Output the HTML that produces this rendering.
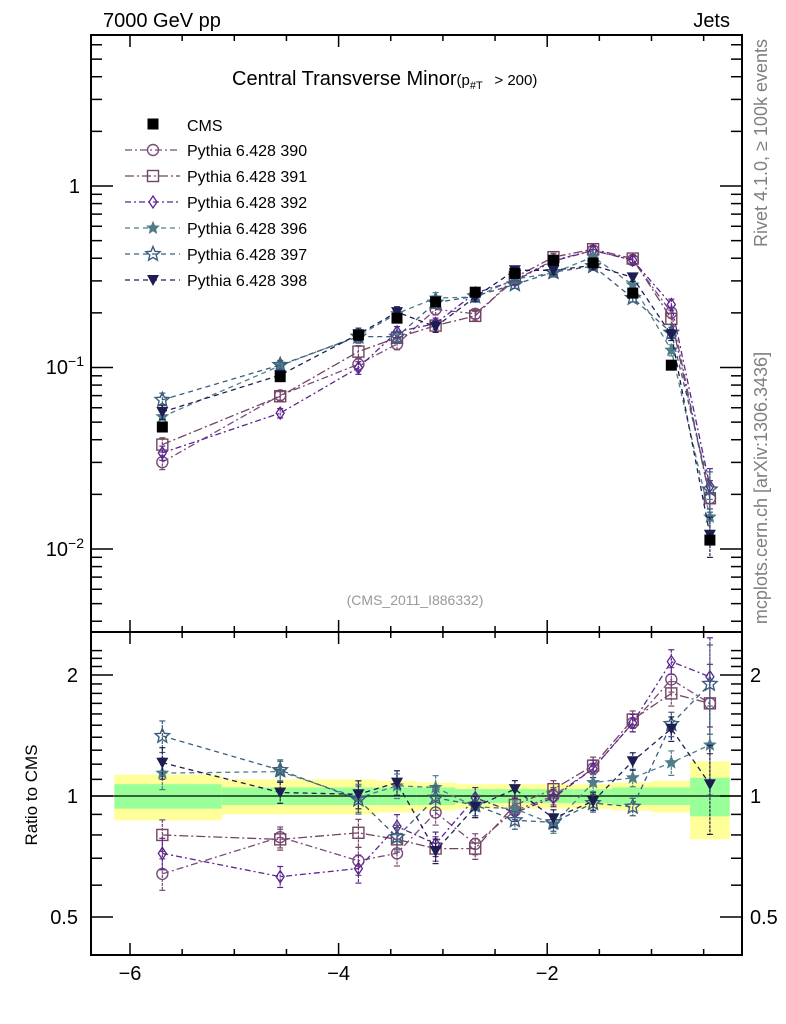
<!DOCTYPE html>
<html><head><meta charset="utf-8"><style>
html,body{margin:0;padding:0;background:#fff;}
svg{display:block;font-family:"Liberation Sans",sans-serif;}
</style></head><body>
<svg id="chart" width="786" height="1024" viewBox="0 0 786 1024"></svg>
<script>
const xCenters=[-5.69,-4.56,-3.81,-3.44,-3.07,-2.69,-2.31,-1.94,-1.56,-1.18,-0.81,-0.44];
const binEdges=[-6.15,-5.12,-4.0,-3.63,-3.25,-2.88,-2.5,-2.13,-1.75,-1.38,-1.0,-0.63,-0.25];
const cmsValues=[0.047,0.089,0.151,0.187,0.23,0.26,0.33,0.39,0.377,0.257,0.103,0.0112];
const bandInner=[0.07,0.05,0.05,0.05,0.05,0.04,0.04,0.04,0.04,0.05,0.05,0.11];
const bandOuter=[0.13,0.10,0.10,0.09,0.08,0.07,0.07,0.07,0.07,0.08,0.09,0.22];
const r390=[0.64,0.79,0.69,0.72,0.91,0.76,0.92,1.0,1.17,1.52,1.95,1.70];
const r391=[0.80,0.78,0.81,0.78,0.74,0.74,0.95,1.04,1.19,1.55,1.80,1.70];
const r392=[0.72,0.63,0.66,0.84,0.76,0.99,0.91,0.99,1.17,1.52,2.16,1.98];
const r396=[1.14,1.15,0.99,1.06,1.05,0.94,0.93,0.85,1.08,1.11,1.21,1.34];
const r397=[1.41,1.16,0.98,0.79,0.99,0.95,0.87,0.86,0.96,0.94,1.51,1.90];
const r398=[1.21,1.02,1.01,1.08,0.73,0.94,1.04,0.88,0.97,1.22,1.47,1.07];
const modelErr=[0.09,0.06,0.08,0.07,0.07,0.06,0.05,0.05,0.05,0.05,0.07,0.25];
const seriesNames=["Pythia 6.428 390","Pythia 6.428 391","Pythia 6.428 392","Pythia 6.428 396","Pythia 6.428 397","Pythia 6.428 398"];
const xTickLabels=["\u22126","\u22124","\u22122"];

const NS="http://www.w3.org/2000/svg";
const svg=document.getElementById('chart');
function mk(tag,attrs,parent){const e=document.createElementNS(NS,tag);for(const k in attrs)e.setAttribute(k,attrs[k]);(parent||svg).appendChild(e);return e;}
const L=91,R=742,T=35,MB=632,RB=955;
const X=v=>130+(v+6)*104.3;
const Y=v=>186-Math.log10(v)*181.5;
const YR=v=>796-Math.log2(v)*121;

const series=[
 {r:r390,c:"#7a4b7c",dash:"7,3,2,3",m:"circle"},
 {r:r391,c:"#734563",dash:"9,3,2,3",m:"square"},
 {r:r392,c:"#5b2590",dash:"6,3,2,3",m:"diamond"},
 {r:r396,c:"#4e7d88",dash:"5,4",m:"starf"},
 {r:r397,c:"#3b5e7c",dash:"5,4",m:"staro"},
 {r:r398,c:"#1e1d52",dash:"5,4",m:"tri"}
];

const gBand=mk('g',{});


for(let i=0;i<cmsValues.length;i++){
  const x1=Math.max(X(binEdges[i]),L),x2=X(binEdges[i+1]);
  mk('rect',{x:x1,y:YR(1+bandOuter[i]),width:x2-x1,height:YR(1-bandOuter[i])-YR(1+bandOuter[i]),fill:"#ffff99"},gBand);
  mk('rect',{x:x1,y:YR(1+bandInner[i]),width:x2-x1,height:YR(1-bandInner[i])-YR(1+bandInner[i]),fill:"#99ff99"},gBand);
}
mk('line',{x1:L,x2:R,y1:YR(1),y2:YR(1),stroke:"#000","stroke-width":1.3});

function star(cx,cy,r){let p=[];for(let k=0;k<10;k++){const a=-Math.PI/2+k*Math.PI/5;const rr=k%2?r*0.45:r;p.push((cx+rr*Math.cos(a)).toFixed(1)+","+(cy+rr*Math.sin(a)).toFixed(1));}return p.join(" ");}
function marker(g,m,x,y,c){
  if(m==="circle")mk('circle',{cx:x,cy:y,r:5.5,fill:"none",stroke:c,"stroke-width":1.4},g);
  else if(m==="square")mk('rect',{x:x-5.5,y:y-5.5,width:11,height:11,fill:"none",stroke:c,"stroke-width":1.4},g);
  else if(m==="diamond")mk('polygon',{points:`${x},${y-6} ${x+4},${y} ${x},${y+6} ${x-4},${y}`,fill:"none",stroke:c,"stroke-width":1.3},g);
  else if(m==="starf")mk('polygon',{points:star(x,y,6),fill:c,stroke:c},g);
  else if(m==="staro")mk('polygon',{points:star(x,y,7.5),fill:"none",stroke:c,"stroke-width":1.4},g);
  else if(m==="tri")mk('polygon',{points:`${x-6},${y-5} ${x+6},${y-5} ${x},${y+6}`,fill:c},g);
  else if(m==="sq")mk('rect',{x:x-5.5,y:y-5.5,width:11,height:11,fill:c},g);
}
function drawSeries(s,idx,yf,vals,clipTop,clipBot){
  const g=mk('g',{});
  
  
  let pts=vals.map((v,i)=>X(xCenters[i]).toFixed(1)+","+yf(v).toFixed(1)).join(" ");
  mk('polyline',{points:pts,fill:"none",stroke:s.c,"stroke-width":1.3,"stroke-dasharray":s.dash},g);
  vals.forEach((v,i)=>{
    const x=X(xCenters[i]);
    const y1=Math.max(yf(v*(1+modelErr[i])),clipTop),y2=Math.min(yf(v*(1-modelErr[i])),clipBot);
    mk('line',{x1:x,x2:x,y1:y1,y2:y2,stroke:s.c,"stroke-width":1.2,"stroke-dasharray":"3,1"},g);
    mk('line',{x1:x-3,x2:x+3,y1:y1,y2:y1,stroke:s.c,"stroke-width":1.2},g);
    mk('line',{x1:x-3,x2:x+3,y1:y2,y2:y2,stroke:s.c,"stroke-width":1.2},g);
    marker(g,s.m,x,yf(v),s.c);
  });
}
series.forEach((s,idx)=>drawSeries(s,idx,Y,s.r.map((r,i)=>r*cmsValues[i]),T,MB));
const gc=mk('g',{});


cmsValues.forEach((v,i)=>marker(gc,"sq",X(xCenters[i]),Y(v),"#000"));
series.forEach((s,idx)=>drawSeries(s,idx,YR,s.r,MB,RB));

mk('rect',{x:L,y:T,width:R-L,height:MB-T,fill:"none",stroke:"#000","stroke-width":2});
mk('rect',{x:L,y:MB,width:R-L,height:RB-MB,fill:"none",stroke:"#000","stroke-width":2});

const tk=mk('g',{stroke:"#000","stroke-width":1.5});
for(let v=-6;v<=-0.5;v+=0.5){
  const x=X(v),maj=Number.isInteger(v)&&v%2===0,l=maj?12:6;
  [[T,1],[MB,-1],[MB,1],[RB,-1]].forEach(([y,d])=>mk('line',{x1:x,x2:x,y1:y,y2:y+d*l},tk));
}
xTickLabels.forEach((t,i)=>{const e=mk('text',{x:X(-6+2*i),y:980,"font-size":20,"text-anchor":"middle"});e.textContent=t;

});
for(let d=-3;d<=0;d++)for(let m=1;m<=9;m++){
  const v=m*Math.pow(10,d),y=Y(v);if(y<T||y>MB)continue;const l=m===1?22:11;
  mk('line',{x1:L,x2:L+l,y1:y,y2:y},tk);mk('line',{x1:R,x2:R-l,y1:y,y2:y},tk);
}
function lbl(x,y,txt,anchor,size,name,sup){const e=mk('text',{x:x,y:y,"font-size":size||20,"text-anchor":anchor||"end"});e.textContent=txt;
if(sup){const s=mk('tspan',{dy:-8,"font-size":14},e);s.textContent=sup;}

return e;}
lbl(80,193,"1","end",20,"y-tick-1");
lbl(84,374,"10","end",20,"y-tick-0.1","\u22121");
lbl(84,556,"10","end",20,"y-tick-0.01","\u22122");
[0.4,0.5,0.6,0.7,0.8,0.9,1,1.1,1.2,1.3,1.4,1.5,1.6,1.7,1.8,1.9,2,2.1,2.2,2.3].forEach(v=>{
  const y=YR(v);if(y<MB||y>RB)return;const l=(v===0.5||v===1||v===2)?22:11;
  mk('line',{x1:L,x2:L+l,y1:y,y2:y},tk);mk('line',{x1:R,x2:R-l,y1:y,y2:y},tk);
});
[["2",2],["1",1],["0.5",0.5]].forEach(([t,v])=>{lbl(78,YR(v)+7,t,"end",20,"ratio-tick-left");lbl(750,YR(v)+7,t,"start",20,"ratio-tick-right");});

lbl(103,27,"7000 GeV pp","start",20,"energy-label");
lbl(730,27,"Jets","end",20,"process-label");
const tt=lbl(232,85,"Central Transverse Minor","start",20,"plot-title");
const t2=mk('tspan',{"font-size":15},tt);t2.textContent="(p";
const t3=mk('tspan',{"font-size":11,dy:4},tt);t3.textContent="#T";
const t4=mk('tspan',{"font-size":15,dy:-4},tt);t4.textContent="\u2002 > 200)";
const ref=lbl(415,605,"(CMS_2011_I886332)","middle",14,"analysis-id");ref.setAttribute('fill','#999');
const rv=lbl(0,0,"Rivet 4.1.0, \u2265 100k events","middle",18,"rivet-label");rv.setAttribute('fill','#808080');rv.setAttribute('transform','translate(767,143) rotate(-90)');
const mc=lbl(0,0,"mcplots.cern.ch [arXiv:1306.3436]","middle",18,"mcplots-label");mc.setAttribute('fill','#808080');mc.setAttribute('transform','translate(767,488) rotate(-90)');
const yl=lbl(0,0,"Ratio to CMS","middle",17,"y-axis-title");yl.setAttribute('transform','translate(37,795) rotate(-90)');

const lg=mk('g',{});


marker(lg,"sq",153,124,"#000");
lbl(187,131,"CMS","start",16,"legend-entry-cms");
series.forEach((s,i)=>{
  const y=150+26*i;
  mk('line',{x1:125,x2:180,y1:y,y2:y,stroke:s.c,"stroke-width":1.3,"stroke-dasharray":s.dash},lg);
  marker(lg,s.m,153,y,s.c);
  lbl(187,y+6,seriesNames[i],"start",16,"legend-entry");
});
</script>
</body></html>
